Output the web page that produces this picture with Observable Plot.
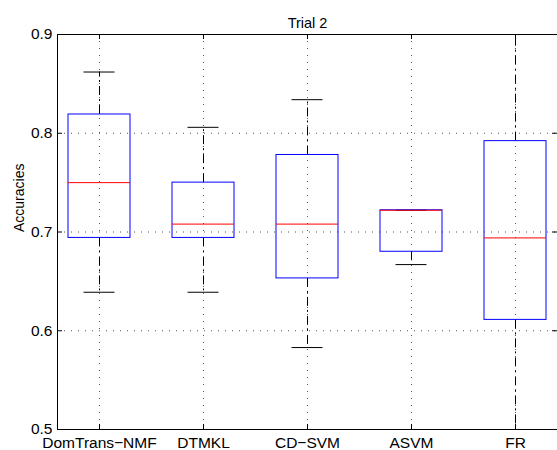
<!DOCTYPE html>
<html>
<head>
<meta charset="utf-8">
<script src="https://cdn.jsdelivr.net/npm/d3@7"></script>
<script src="https://cdn.jsdelivr.net/npm/@observablehq/plot@0.6"></script>
<style>
  html, body { margin: 0; padding: 0; background: #fff; overflow: hidden; }
  #chart svg { display: block; }
</style>
</head>
<body>
<div id="chart"></div>
<script>
// ---- data ----
const methods = ["DomTrans\u2212NMF", "DTMKL", "CD\u2212SVM", "ASVM", "FR"];
const lowerWhisker = [0.639, 0.639, 0.583, 0.667, 0.45];
const q1 = [0.694, 0.694, 0.653, 0.680, 0.611];
const medians = [0.750, 0.708, 0.708, 0.722, 0.694];
const q3 = [0.819, 0.750, 0.778, 0.722, 0.792];
const upperWhisker = [0.862, 0.806, 0.834, 0.722, 0.95];
const yTicks = [0.5, 0.6, 0.7, 0.8, 0.9];
const gridY = [0.6, 0.7, 0.8];
const title = "Trial 2";
const yLabel = "Accuracies";

const rows = methods.map((m, i) => ({
  method: m, lo: lowerWhisker[i], q1: q1[i], med: medians[i], q3: q3[i], hi: upperWhisker[i]
}));

const W = 557, H = 450;
const mL = 57, mR = 0, mT = 34, mB = 21;
const frameW = W - mL - mR, frameH = H - mT - mB;
const tickLen = 5;
const font = "'Liberation Sans', Arial, Helvetica, sans-serif";

const chart = Plot.plot({
  width: W,
  height: H,
  marginLeft: mL,
  marginRight: mR,
  marginTop: mT,
  marginBottom: mB,
  style: { fontFamily: font, fontSize: "15.5px", background: "#fff", color: "#000" },
  x: {
    type: "band",
    domain: methods,
    paddingInner: 0.406,
    paddingOuter: 0.0975,
    tickSize: 0,
    tickPadding: 7,
    label: null
  },
  y: {
    domain: [0.5, 0.9],
    ticks: yTicks,
    tickFormat: d3.format(".1f"),
    tickSize: 0,
    tickPadding: 5,
    label: null
  },
  marks: [
    // dotted grid
    Plot.ruleY(gridY, { y: d => d, stroke: "#555", strokeDasharray: "1,6", strokeWidth: 1 }),
    Plot.ruleX(methods, { x: d => d, stroke: "#555", strokeDasharray: "1,6", strokeWidth: 1 }),
    // whiskers (dash-dot)
    Plot.ruleX(rows, { x: "method", y1: "q3", y2: "hi", stroke: "#000", strokeDasharray: "9,4,2,4", clip: true }),
    Plot.ruleX(rows, { x: "method", y1: "q1", y2: "lo", stroke: "#000", strokeDasharray: "9,4,2,4", clip: true }),
    // whisker caps
    Plot.tickY(rows.filter(r => r.hi <= 0.9), { x: "method", y: "hi", stroke: "#000", inset: 15.5 }),
    Plot.tickY(rows.filter(r => r.lo >= 0.5), { x: "method", y: "lo", stroke: "#000", inset: 15.5 }),
    // boxes
    Plot.barY(rows, { x: "method", y1: "q1", y2: "q3", fill: "none", stroke: "#0000ff", strokeWidth: 1 }),
    // medians
    Plot.tickY(rows, { x: "method", y: "med", stroke: "#ff0000", strokeWidth: 1 }),
    // axes box: top and bottom lines
    Plot.ruleY([yTicks[0], yTicks[yTicks.length - 1]], { y: d => d, stroke: "#000", strokeWidth: 1 }),
    // inward ticks
    Plot.tickY(yTicks, { y: d => d, insetRight: frameW - tickLen, stroke: "#000" }),
    Plot.tickY(yTicks, { y: d => d, insetLeft: frameW - tickLen, stroke: "#000" }),
    Plot.tickX(methods, { x: d => d, insetTop: frameH - tickLen, stroke: "#000" }),
    Plot.tickX(methods, { x: d => d, insetBottom: frameH - tickLen, stroke: "#000" }),
    // title and y label
    Plot.text([title], { frameAnchor: "top", dy: -17, fontSize: 14.5, fill: "#000" }),
    Plot.text([yLabel], { frameAnchor: "left", dx: -38, rotate: -90, fontSize: 14, fill: "#000" }),
    // left axis line along the frame's left edge
    () => {
      const g = document.createElementNS("http://www.w3.org/2000/svg", "line");
      g.setAttribute("x1", mL + 0.5); g.setAttribute("x2", mL + 0.5);
      g.setAttribute("y1", mT); g.setAttribute("y2", H - mB + 0.5);
      g.setAttribute("stroke", "#000");
      return g;
    }
  ]
});

document.getElementById("chart").appendChild(chart);
</script>
</body>
</html>
